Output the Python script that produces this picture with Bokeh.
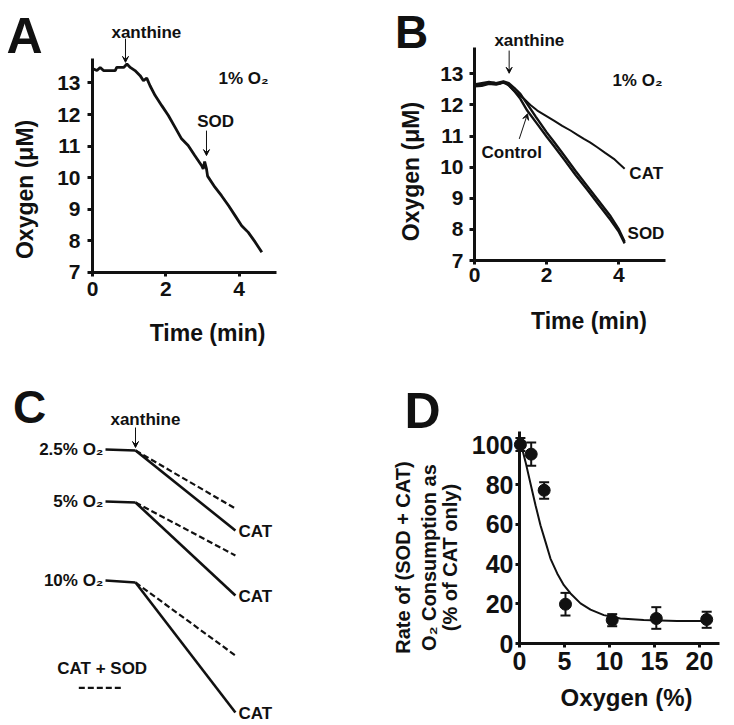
from bokeh.plotting import figure
from bokeh.models import Range1d, FixedTicker, Label, Arrow, VeeHead, Whisker, TeeHead, ColumnDataSource
from bokeh.layouts import row, column
from bokeh.embed import file_html
from bokeh.resources import INLINE
import math

FONT = "Liberation Sans"
INK = "#111111"

# ---------------- Panel A: O2 trace, xanthine then SOD at 1% O2 ----------------
a_time = [0.03, 0.12, 0.21, 0.30, 0.62, 0.66, 0.85, 0.94, 1.03, 1.16, 1.30, 1.39, 1.48, 1.57,
          1.71, 1.89, 2.07, 2.25, 2.43, 2.61, 2.79, 2.98, 3.02, 3.06, 3.11, 3.14, 3.34, 3.52,
          3.71, 3.89, 4.07, 4.25, 4.44, 4.62]
a_oxygen = [13.44, 13.39, 13.49, 13.39, 13.39, 13.49, 13.49, 13.60, 13.49, 13.39, 13.23, 13.07,
            13.15, 12.91, 12.60, 12.28, 11.97, 11.60, 11.23, 11.02, 10.70, 10.38, 10.28, 10.51,
            10.28, 10.05, 9.70, 9.43, 9.12, 8.80, 8.48, 8.27, 7.96, 7.64]
ab_time_ticks = [0, 2, 4]
ab_oxygen_ticks = [7, 8, 9, 10, 11, 12, 13]

# ---------------- Panel B: control, CAT, SOD traces ----------------
b_cat_time = [0, 0.2, 0.4, 0.55, 0.7, 0.81, 0.95, 1.09, 1.23, 1.37, 1.55, 1.74, 1.97, 2.2, 2.43,
              2.66, 2.85, 3.03, 3.2, 3.4, 3.62, 3.86, 4.0, 4.16]
b_cat_oxygen = [12.62, 12.65, 12.70, 12.72, 12.68, 12.75, 12.62, 12.46, 12.33, 12.20, 12.00,
                11.82, 11.66, 11.50, 11.33, 11.18, 11.04, 10.91, 10.80, 10.64, 10.46, 10.27,
                10.12, 9.95]
b_ctrl_time = [0, 0.2, 0.4, 0.6, 0.8, 0.95, 1.1, 1.27, 1.46, 1.7, 2.0, 2.2, 2.5, 2.8, 3.12, 3.4,
               3.77, 4.0, 4.16]
b_ctrl_oxygen = [12.60, 12.62, 12.68, 12.66, 12.72, 12.65, 12.45, 12.20, 11.82, 11.45, 10.98,
                 10.68, 10.22, 9.75, 9.28, 8.86, 8.30, 7.92, 7.55]
b_sod_time = [0, 0.2, 0.4, 0.6, 0.8, 0.95, 1.1, 1.27, 1.45, 1.7, 2.0, 2.2, 2.5, 2.8, 3.12, 3.4,
              3.77, 4.0, 4.16]
b_sod_oxygen = [12.66, 12.70, 12.74, 12.70, 12.76, 12.70, 12.55, 12.36, 12.05, 11.62, 11.12,
                10.82, 10.35, 9.88, 9.40, 8.98, 8.42, 8.00, 7.60]

# ---------------- Panel C: schematic ----------------
c_conditions = ["2.5% O\u2082", "5% O\u2082", "10% O\u2082"]
c_t_start, c_t_xanthine, c_t_end = 0.0, 1.0, 4.33
c_level_start = [26.8, 21.6, 13.7]
c_level_xanthine = [26.7, 21.5, 13.5]
c_level_cat_end = [18.7, 12.2, 0.5]
c_level_catsod_end = [20.9, 16.2, 6.2]
c_legend_t = [-0.89, 0.56]
c_legend_level = [2.97, 2.97]

# ---------------- Panel D: relative rate vs oxygen ----------------
d_oxygen = [0.1, 1.3, 2.74, 5.11, 10.3, 15.2, 20.8]
d_rate = [100.2, 95.4, 77.2, 19.8, 11.8, 12.6, 12.1]
d_upper = [103.5, 101.3, 81.3, 25.5, 14.8, 18.3, 16.0]
d_lower = [97.0, 89.5, 72.9, 14.1, 8.7, 7.4, 7.9]
d_fit_x = [0.1, 0.67, 1.22, 1.78, 2.33, 2.89, 3.44, 4.19, 4.93, 5.67, 6.78, 7.89, 9.37, 11.2,
           13.8, 17.5, 21.2]
d_fit_y = [101.6, 91.5, 80.6, 69.7, 59.6, 51.2, 42.8, 35.3, 29.4, 25.2, 20.2, 17.1, 14.3, 12.6,
           11.8, 11.4, 11.4]
d_x_ticks = [0, 5, 10, 15, 20]
d_y_ticks = [0, 20, 40, 60, 80, 100]


def lab(p, x, y, text, size="17px", align="center", baseline="middle", angle=0.0):
    p.add_layout(Label(x=x, y=y, text=text, text_font=FONT, text_font_size=size,
                       text_font_style="bold", text_align=align, text_baseline=baseline,
                       angle=angle, text_color=INK))


def arrow(p, x0, y0, x1, y1):
    p.add_layout(Arrow(end=VeeHead(size=6, line_width=1, line_color=INK),
                       x_start=x0, y_start=y0, x_end=x1, y_end=y1,
                       line_width=1, line_color=INK))


def make_fig(w, h, xr, yr):
    p = figure(width=w, height=h, x_range=Range1d(*xr), y_range=Range1d(*yr),
               output_backend="svg", toolbar_location=None, title=None,
               min_border_left=0, min_border_right=0, min_border_top=0, min_border_bottom=0)
    p.xgrid.grid_line_color = None
    p.ygrid.grid_line_color = None
    p.outline_line_color = None
    return p


def style(p, xticks, yticks, xloc, yloc, xbounds, ybounds, tick_font,
          x_out, y_out, x_standoff, y_standoff):
    p.xaxis.ticker = FixedTicker(ticks=xticks)
    p.yaxis.ticker = FixedTicker(ticks=yticks)
    p.xaxis.fixed_location = xloc
    p.yaxis.fixed_location = yloc
    p.xaxis.bounds = xbounds
    p.yaxis.bounds = ybounds
    for ax in p.axis:
        ax.axis_line_width = 3
        ax.axis_line_color = INK
        ax.major_tick_line_width = 3
        ax.major_tick_line_color = INK
        ax.major_tick_in = 0
        ax.minor_tick_line_color = None
        ax.major_label_text_font = FONT
        ax.major_label_text_font_style = "bold"
        ax.major_label_text_font_size = tick_font
        ax.major_label_text_color = INK
    p.xaxis.major_tick_out = x_out
    p.yaxis.major_tick_out = y_out
    p.xaxis.major_label_standoff = x_standoff
    p.yaxis.major_label_standoff = y_standoff


# ================= Panel A =================
pA = make_fig(367, 358, (-2.510, 7.503), (4.278, 15.608))
style(pA, ab_time_ticks, ab_oxygen_ticks, 7, 0, (-0.05, 5.02), (7, 13.77), "21px", 4, 5, 6, 7)
pA.line(a_time, a_oxygen, line_width=2.8, line_color=INK)
lab(pA, -1.855, 14.5, "A", size="50px")
lab(pA, 1.47, 14.59, "xanthine")
arrow(pA, 0.9, 14.4, 0.9, 13.65)
lab(pA, 3.44, 13.14, "1% O\u2082", align="left")
lab(pA, 3.36, 11.79, "SOD")
arrow(pA, 3.11, 11.49, 3.11, 10.70)
lab(pA, 3.14, 5.07, "Time (min)", size="23px")
lab(pA, -1.855, 9.63, "Oxygen (\u03bcM)", size="23px", angle=math.pi / 2)

# ================= Panel B =================
pB = make_fig(365, 358, (-2.964, 7.147), (3.849, 15.360))
style(pB, ab_time_ticks, ab_oxygen_ticks, 7, 0, (0, 5.29), (7, 13.85), "21px", 4, 5, 3, 6)
pB.line(b_cat_time, b_cat_oxygen, line_width=2.0, line_color=INK)
pB.line(b_ctrl_time, b_ctrl_oxygen, line_width=2.4, line_color=INK)
pB.line(b_sod_time, b_sod_oxygen, line_width=2.4, line_color=INK)
lab(pB, -1.745, 14.34, "B", size="46px")
lab(pB, 1.52, 14.07, "xanthine")
arrow(pB, 0.96, 13.75, 0.96, 13.02)
lab(pB, 3.82, 12.79, "1% O\u2082", align="left")
lab(pB, 1.03, 10.46, "Control")
arrow(pB, 1.24, 10.91, 1.47, 11.72)
lab(pB, 4.29, 9.79, "CAT", align="left")
lab(pB, 4.24, 7.86, "SOD", align="left")
lab(pB, 3.17, 5.07, "Time (min)", size="23px")
lab(pB, -1.77, 9.86, "Oxygen (\u03bcM)", size="23px", angle=math.pi / 2)

# ================= Panel C =================
pC = make_fig(367, 365, (-3.5, 8.733), (-0.6, 35.9))
pC.axis.visible = False
for i, name in enumerate(c_conditions):
    pC.line([c_t_start, c_t_xanthine], [c_level_start[i], c_level_xanthine[i]],
            line_width=2.6, line_color=INK)
    pC.line([c_t_xanthine, c_t_end], [c_level_xanthine[i], c_level_cat_end[i]],
            line_width=2.6, line_color=INK)
    pC.line([c_t_xanthine, c_t_end], [c_level_xanthine[i], c_level_catsod_end[i]],
            line_width=2.2, line_color=INK, line_dash="6 3")
    lab(pC, c_t_start - 0.07, c_level_start[i], name, align="right")
    lab(pC, c_t_end + 0.1, c_level_cat_end[i] - 0.1, "CAT", align="left")
pC.line(c_legend_t, c_legend_level, line_width=2.2, line_color=INK, line_dash="6 3")
lab(pC, -2.53, 31.1, "C", size="46px")
lab(pC, 1.33, 29.77, "xanthine")
arrow(pC, 1.0, 29.0, 1.0, 27.0)
lab(pC, -0.11, 4.87, "CAT + SOD")

# ================= Panel D =================
pD = make_fig(365, 365, (-16.889, 23.667), (-40.30, 143.58))
style(pD, d_x_ticks, d_y_ticks, 0, 0, (-0.2, 22.2), (0, 106.6), "25px", 4, 4, 4, 2)
src = ColumnDataSource(dict(x=d_oxygen, y=d_rate, upper=d_upper, lower=d_lower))
pD.line(d_fit_x, d_fit_y, line_width=2.0, line_color=INK)
pD.add_layout(Whisker(base="x", upper="upper", lower="lower", source=src,
                      line_width=2, line_color=INK,
                      upper_head=TeeHead(size=10, line_width=2, line_color=INK),
                      lower_head=TeeHead(size=10, line_width=2, line_color=INK)))
pD.scatter("x", "y", source=src, size=12, marker="circle", fill_color=INK, line_color=INK)
lab(pD, -10.78, 117.3, "D", size="50px")
lab(pD, 11.89, -27.2, "Oxygen (%)", size="24px")
lab(pD, -13.0, 43.3, "Rate of (SOD + CAT)", size="20px", angle=math.pi / 2)
lab(pD, -10.11, 43.3, "O\u2082 Consumption as", size="20px", angle=math.pi / 2)
lab(pD, -7.67, 43.3, "(% of CAT only)", size="20px", angle=math.pi / 2)

layout = column(row(pA, pB), row(pC, pD))
open("out.html", "w").write(file_html(layout, INLINE))
